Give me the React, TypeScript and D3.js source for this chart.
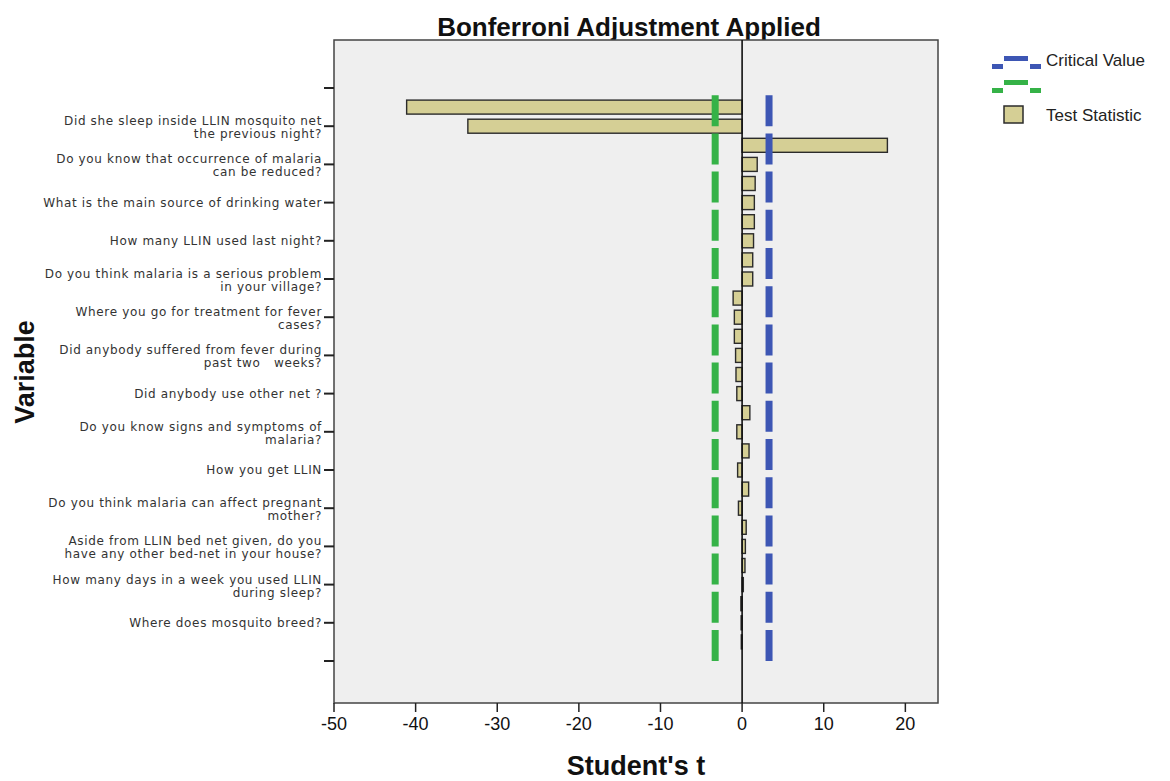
import React from "react";
import * as d3 from "d3";

// Test statistic (Student's t) per variable slot, top to bottom. Empty slots are null.
const testStatistic: (number | null)[] = [
  null, -41.1, -33.6, 17.8, 1.85, 1.6, 1.5, 1.5, 1.4, 1.3, 1.3,
  -1.1, -0.95, -0.95, -0.8, -0.75, -0.65, 0.95, -0.65, 0.85, -0.55,
  0.8, -0.45, 0.5, 0.4, 0.35, 0.15, -0.15, -0.12, -0.1, null,
];

// Labels shown on every other slot (slot index = 2 * position)
const variableLabels: string[] = [
  "",
  "Did she sleep inside LLIN mosquito net\nthe previous night?",
  "Do you know that occurrence of malaria\ncan be reduced?",
  "What is the main source of drinking water",
  "How many LLIN used last night?",
  "Do you think malaria is a serious problem\nin your village?",
  "Where you go for treatment for fever\ncases?",
  "Did anybody suffered from fever during\npast two   weeks?",
  "Did anybody use other net ?",
  "Do you know signs and symptoms of\nmalaria?",
  "How you get LLIN",
  "Do you think malaria can affect pregnant\nmother?",
  "Aside from LLIN bed net given, do you\nhave any other bed-net in your house?",
  "How many days in a week you used LLIN\nduring sleep?",
  "Where does mosquito breed?",
  "",
];

const criticalLower = -3.3;
const criticalUpper = 3.3;
const xTicks = [-50, -40, -30, -20, -10, 0, 10, 20];
const xDomain: [number, number] = [-50, 24];

const plot = { left: 334, right: 938, top: 40, bottom: 703 };
const blue = "#3d56b4";
const green = "#35b247";
const barFill = "#d5cf95";

export default function App() {
  const x = d3.scaleLinear().domain(xDomain).range([plot.left, plot.right]);
  const y = d3
    .scaleLinear()
    .domain([0, testStatistic.length - 1])
    .range([88, 661]);
  const barH = 14;
  const yTop = y(0);
  const yBottom = y(testStatistic.length - 1);

  const labelFont = "'DejaVu Sans', Verdana, sans-serif";
  const mainFont = "'Liberation Sans', Arial, sans-serif";

  return (
    <div style={{ position: "absolute", left: 0, top: 0 }}>
      <svg width={1170} height={781} style={{ display: "block", background: "#fff" }}>
        {/* title */}
        <text
          x={629}
          y={36}
          textAnchor="middle"
          fontFamily={mainFont}
          fontWeight="bold"
          fontSize={26}
          fill="#111"
        >
          Bonferroni Adjustment Applied
        </text>

        {/* plot area */}
        <rect
          x={plot.left}
          y={plot.top}
          width={plot.right - plot.left}
          height={plot.bottom - plot.top}
          fill="#efefef"
          stroke="#444"
          strokeWidth={1.5}
        />

        {/* bars */}
        {testStatistic.map((v, i) =>
          v === null ? null : (
            <rect
              key={i}
              x={Math.min(x(0), x(v))}
              y={y(i) - barH / 2}
              width={Math.abs(x(v) - x(0))}
              height={barH}
              fill={barFill}
              stroke="#2b2b2b"
              strokeWidth={1.4}
            />
          )
        )}

        {/* zero reference line */}
        <line x1={x(0)} x2={x(0)} y1={plot.top} y2={plot.bottom} stroke="#111" strokeWidth={1.6} />

        {/* critical values */}
        {[
          { v: criticalLower, c: green },
          { v: criticalUpper, c: blue },
        ].map((d) => (
          <line
            key={d.v}
            x1={x(d.v)}
            x2={x(d.v)}
            y1={yBottom}
            y2={yTop}
            stroke={d.c}
            strokeWidth={7}
            strokeDasharray="31 7.2"
          />
        ))}

        {/* y axis ticks and labels */}
        {variableLabels.map((lab, k) => {
          const ty = y(k * 2);
          const lines = lab ? lab.split("\n") : [];
          return (
            <g key={k}>
              <line x1={plot.left - 10} x2={plot.left} y1={ty} y2={ty} stroke="#222" strokeWidth={2} />
              {lines.map((ln, j) => (
                <text
                  key={j}
                  x={plot.left - 12}
                  y={lines.length === 1 ? ty + 4 : ty - 1 + j * 13}
                  textAnchor="end"
                  fontFamily={labelFont}
                  fontSize={12}
                  letterSpacing={0.65}
                  fill="#333"
                  style={{ whiteSpace: "pre" }}
                >
                  {ln}
                </text>
              ))}
            </g>
          );
        })}

        {/* x axis ticks and labels */}
        {xTicks.map((t) => (
          <g key={t}>
            <line x1={x(t)} x2={x(t)} y1={plot.bottom} y2={plot.bottom + 9} stroke="#222" strokeWidth={1.5} />
            <text
              x={x(t)}
              y={plot.bottom + 27}
              textAnchor="middle"
              fontFamily={mainFont}
              fontSize={18}
              fill="#111"
            >
              {t}
            </text>
          </g>
        ))}

        {/* axis titles */}
        <text
          x={636}
          y={775}
          textAnchor="middle"
          fontFamily={mainFont}
          fontWeight="bold"
          fontSize={27}
          fill="#111"
        >
          Student's t
        </text>
        <text
          transform={`translate(34, ${372}) rotate(-90)`}
          textAnchor="middle"
          fontFamily={mainFont}
          fontWeight="bold"
          fontSize={27}
          fill="#111"
        >
          Variable
        </text>

        {/* legend */}
        <g>
          <rect x={1004} y={56} width={24} height={5} fill={blue} />
          <rect x={992} y={64} width={11} height={5} fill={blue} />
          <rect x={1030} y={64} width={11} height={5} fill={blue} />
          <text x={1046} y={66} fontFamily={mainFont} fontSize={17} fill="#222">
            Critical Value
          </text>
          <rect x={1004} y={80} width={24} height={5} fill={green} />
          <rect x={992} y={88} width={11} height={5} fill={green} />
          <rect x={1030} y={88} width={11} height={5} fill={green} />
          <rect x={1004} y={106} width={19} height={17} fill={barFill} stroke="#2b2b2b" strokeWidth={1.5} />
          <text x={1046} y={121} fontFamily={mainFont} fontSize={17} fill="#222">
            Test Statistic
          </text>
        </g>
      </svg>
    </div>
  );
}
